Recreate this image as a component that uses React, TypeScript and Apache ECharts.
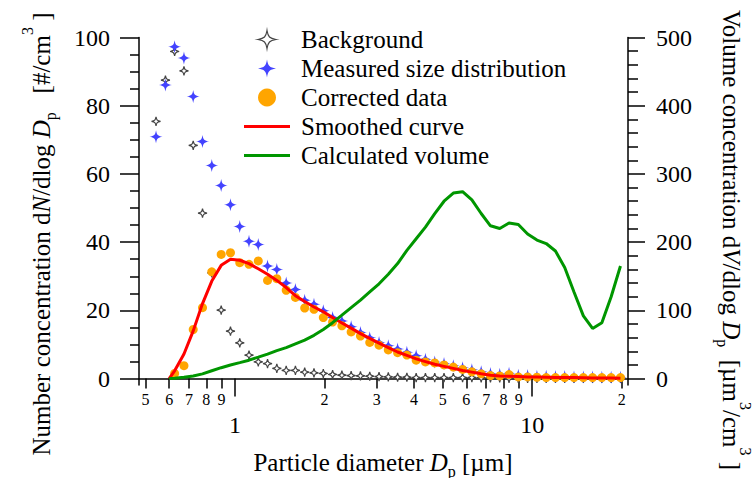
import React, { useEffect, useRef } from "react";
import * as echarts from "echarts";

const FONT = "'Liberation Serif', 'Times New Roman', serif";

// channel diameters (µm)
const diameters = [
  0.542, 0.583, 0.626, 0.673, 0.723, 0.777, 0.835, 0.898, 0.965, 1.037,
  1.114, 1.197, 1.286, 1.382, 1.486, 1.596, 1.715, 1.843, 1.981, 2.129,
  2.288, 2.458, 2.642, 2.839, 3.051, 3.278, 3.523, 3.786, 4.068, 4.371,
  4.698, 5.048, 5.425, 5.829, 6.264, 6.732, 7.234, 7.774, 8.354, 8.977,
  9.647, 10.37, 11.14, 11.97, 12.86, 13.82, 14.86, 15.96, 17.15, 18.43, 19.81,
];

const background = [
  75.4, 87.5, 95.9, 90.2, 68.4, 48.5, 31.0, 20.1, 13.9, 10.5,
  6.9, 4.9, 4.4, 3.0, 2.4, 2.4, 1.9, 1.7, 1.5, 1.2,
  1.0, 0.9, 0.8, 0.7, 0.6, 0.5, 0.4, 0.4, 0.3, 0.3,
  0.3, 0.3, 0.3, 0.3, 0.3, 0.2, 0.2, 0.2, 0.1, 0.1,
  0.1, 0.1, 0.1, 0.1, 0.1, 0.1, 0.1, 0.1, 0.1, 0.1, 0.1,
];

const measured = [
  70.9, 86.1, 97.3, 94.0, 82.7, 69.5, 62.5, 56.6, 51.0, 44.6,
  40.3, 39.3, 33.0, 32.0, 28.0, 26.1, 23.0, 21.8, 19.9, 17.9,
  16.9, 15.2, 13.5, 12.0, 10.6, 9.6, 8.7, 7.7, 6.7, 5.7,
  4.9, 4.4, 3.8, 3.2, 2.6, 2.0, 1.5, 1.3, 1.6, 1.0,
  0.9, 0.7, 0.7, 0.6, 0.6, 0.5, 0.5, 0.5, 0.4, 0.4, 0.4,
];

const corrected = [
  null, null, 1.5, 3.8, 14.4, 20.8, 31.3, 36.4, 36.9, 34.0,
  33.5, 34.5, 28.8, 29.3, 25.9, 23.8, 20.7, 20.3, 17.9, 16.6,
  15.5, 13.7, 12.5, 10.6, 9.8, 8.4, 7.6, 6.9, 5.4, 4.9,
  4.6, 4.0, 3.4, 2.7, 2.0, 1.4, 0.9, 0.8, 1.2, 0.5,
  0.5, 0.4, 0.3, 0.3, 0.3, 0.3, 0.3, 0.3, 0.3, 0.3, 0.3,
];

// curves start at 0.6 µm
const curveDiameters = [
  0.6, 0.626, 0.673, 0.723, 0.777, 0.835, 0.898, 0.965, 1.037,
  1.114, 1.197, 1.286, 1.382, 1.486, 1.596, 1.715, 1.843, 1.981, 2.129,
  2.288, 2.458, 2.642, 2.839, 3.051, 3.278, 3.523, 3.786, 4.068, 4.371,
  4.698, 5.048, 5.425, 5.829, 6.264, 6.732, 7.234, 7.774, 8.354, 8.977,
  9.647, 10.37, 11.14, 11.97, 12.86, 13.82, 14.86, 15.96, 17.15, 18.43, 19.81,
];

const smoothed = [
  0, 2.3, 7.2, 14.0, 22.0, 28.6, 33.2, 35.0, 34.7,
  33.7, 32.2, 30.6, 28.8, 26.7, 24.3, 22.6, 21.0, 19.6, 17.9,
  16.3, 14.8, 13.2, 11.8, 10.4, 9.1, 7.8, 6.8, 5.8, 5.0,
  4.2, 3.6, 3.0, 2.4, 1.9, 1.4, 1.0, 0.8, 0.7, 0.6,
  0.5, 0.45, 0.4, 0.35, 0.3, 0.3, 0.25, 0.2, 0.2, 0.15, 0.1,
];

const volume = [
  0, 0.5, 1.9, 3.8, 7.0, 11.5, 16, 20, 23.5,
  27, 31.5, 36, 41, 45.5, 51, 56.5, 63.5, 72, 82,
  93, 104, 115, 127, 139, 153, 168.6, 188, 205, 222,
  241.7, 260, 272, 274, 262, 242, 224, 220, 228, 226,
  212, 203, 198, 187, 163, 127, 92, 73.5, 82, 120, 165,
];

const minorTickValues = [0.5, 0.6, 0.7, 0.8, 0.9, 2, 3, 4, 5, 6, 7, 8, 9, 20];
const minorTickLabels = ["5", "6", "7", "8", "9", "2", "3", "4", "5", "6", "7", "8", "9", "2"];
const majorTickValues = [1, 10];
const majorTickLabels = ["1", "10"];

const leftTicks = [0, 20, 40, 60, 80, 100];
const leftMinorTicks = [5, 10, 15, 25, 30, 35, 45, 50, 55, 65, 70, 75, 85, 90, 95];
const rightTicks = [0, 100, 200, 300, 400, 500];
const rightMinorTicks = [20, 40, 60, 80, 120, 140, 160, 180, 220, 240, 260, 280, 320, 340, 360, 380, 420, 440, 460, 480];

const seriesNames = [
  "Background",
  "Measured size distribution",
  "Corrected data",
  "Smoothed curve",
  "Calculated volume",
];

const STAR = "path://M0,-10C1.2,-2.8 2.8,-1.2 10,0C2.8,1.2 1.2,2.8 0,10C-1.2,2.8 -2.8,1.2 -10,0C-2.8,-1.2 -1.2,-2.8 0,-10Z";
const LINE_ICON = "path://M0,0H46V3H0Z";

function labelFor(values: number[], labels: string[]) {
  return (v: number) => {
    const i = values.findIndex((t) => Math.abs(t - v) < 1e-6 * Math.max(1, t));
    return i >= 0 ? "{t|" + labels[i] + "}" : "";
  };
}
const plainLabel = (v: number) => "{t|" + v + "}";

const X_MIN = 0.475;
const X_MAX = 21;
const L_MIN = -1.87;
const L_MAX = 100;
const R_MIN = -9.36;
const R_MAX = 500;

const AX = { lineStyle: { color: "#000", width: 1.5 } };
const TICK = { color: "#000", width: 1.5 };
const tickRich = (size: number) => ({ t: { fontFamily: FONT, fontSize: size, color: "#000" } });

const LH = 30;
const mainStyle = { fontFamily: FONT, fontSize: 25, fill: "#000", lineHeight: LH, verticalAlign: "middle" };
const italicStyle = { ...mainStyle, fontStyle: "italic" };
const subStyle = { fontFamily: FONT, fontSize: 16, fill: "#000", lineHeight: LH, verticalAlign: "middle", padding: [18, 0, 0, 0] };
const supStyle = { fontFamily: FONT, fontSize: 16, fill: "#000", lineHeight: LH, verticalAlign: "middle", padding: [0, 0, 28, 0] };
const richStyles = { n: mainStyle, i: italicStyle, sub: subStyle, sup: supStyle };

function titleText(x: number, y: number, rotation: number, text: string) {
  return {
    type: "text",
    x,
    y,
    rotation,
    style: {
      legacy: false,
      text,
      rich: richStyles,
      fontFamily: FONT,
      fontSize: 25,
      lineHeight: LH,
      fill: "#000",
      align: "center",
      verticalAlign: "middle",
    },
  };
}

export default function App() {
  const ref = useRef<HTMLDivElement>(null);
  useEffect(() => {
    if (!ref.current) return;
    const chart = echarts.init(ref.current, undefined, { renderer: "svg" });
    const option: any = {
      animation: false,
      backgroundColor: "#fff",
      textStyle: { fontFamily: FONT, color: "#000" },
      grid: { left: 139, right: 126, top: 37.5, bottom: 93, outerBoundsMode: "none" },
      legend: {
        orient: "vertical",
        left: 239,
        top: 22,
        itemWidth: 46,
        itemHeight: 18,
        itemGap: 4,
        textStyle: { fontFamily: FONT, fontSize: 25, color: "#000", lineHeight: 25, padding: [0, 0, 0, 6] },
        data: [
          { name: seriesNames[0], itemStyle: { borderWidth: 1.2 } },
          seriesNames[1],
          seriesNames[2],
          { name: seriesNames[3], icon: LINE_ICON },
          { name: seriesNames[4], icon: LINE_ICON },
        ],
      },
      xAxis: [
        {
          type: "log",
          logBase: 10,
          min: X_MIN,
          max: X_MAX,
          position: "bottom",
          axisLine: { show: true, ...AX },
          axisTick: { show: true, customValues: minorTickValues, length: 10, lineStyle: TICK },
          axisLabel: {
            customValues: minorTickValues,
            formatter: labelFor(minorTickValues, minorTickLabels),
            rich: tickRich(16),
            fontFamily: FONT,
            fontSize: 16,
            color: "#000",
            margin: 6,
          },
          splitLine: { show: false },
          minorTick: { show: false },
        },
        {
          type: "log",
          logBase: 10,
          min: X_MIN,
          max: X_MAX,
          position: "bottom",
          axisLine: { show: false },
          axisTick: { show: true, customValues: majorTickValues, length: 18, lineStyle: TICK },
          axisLabel: {
            customValues: majorTickValues,
            formatter: labelFor(majorTickValues, majorTickLabels),
            rich: tickRich(24),
            fontFamily: FONT,
            fontSize: 24,
            color: "#000",
            margin: 28,
          },
          splitLine: { show: false },
        },
      ],
      yAxis: [
        {
          type: "value",
          position: "left",
          min: L_MIN,
          max: L_MAX,
          axisLine: { show: true, ...AX },
          axisTick: { show: true, customValues: leftTicks, length: 19, lineStyle: TICK },
          axisLabel: { customValues: leftTicks, formatter: plainLabel, rich: tickRich(24), fontFamily: FONT, fontSize: 24, color: "#000", margin: 29 },
          splitLine: { show: false },
        },
        {
          type: "value",
          position: "left",
          min: L_MIN,
          max: L_MAX,
          axisLine: { show: false },
          axisTick: { show: true, customValues: leftMinorTicks, length: 9, lineStyle: TICK },
          axisLabel: { show: false },
          splitLine: { show: false },
        },
        {
          type: "value",
          position: "right",
          min: R_MIN,
          max: R_MAX,
          axisLine: { show: true, ...AX },
          axisTick: { show: true, customValues: rightTicks, length: 17, lineStyle: TICK },
          axisLabel: { customValues: rightTicks, formatter: plainLabel, rich: tickRich(24), fontFamily: FONT, fontSize: 24, color: "#000", margin: 28 },
          splitLine: { show: false },
        },
        {
          type: "value",
          position: "right",
          min: R_MIN,
          max: R_MAX,
          axisLine: { show: false },
          axisTick: { show: true, customValues: rightMinorTicks, length: 10, lineStyle: TICK },
          axisLabel: { show: false },
          splitLine: { show: false },
        },
      ],
      series: [
        {
          name: seriesNames[0],
          type: "scatter",
          xAxisIndex: 0,
          yAxisIndex: 0,
          symbol: STAR,
          symbolSize: 9,
          itemStyle: { color: "#ffffff", borderColor: "#444444", borderWidth: 1.2, opacity: 1 },
          data: diameters.map((d, i) => [d, background[i]]),
        },
        {
          name: seriesNames[1],
          type: "scatter",
          xAxisIndex: 0,
          yAxisIndex: 0,
          symbol: STAR,
          symbolSize: 13,
          itemStyle: { color: "#4343ff", opacity: 1 },
          data: diameters.map((d, i) => [d, measured[i]]),
        },
        {
          name: seriesNames[2],
          type: "scatter",
          xAxisIndex: 0,
          yAxisIndex: 0,
          symbol: "circle",
          symbolSize: 9,
          itemStyle: { color: "#ffa500", opacity: 1 },
          data: diameters.map((d, i) => [d, corrected[i]]).filter((p) => p[1] !== null),
        },
        {
          name: seriesNames[3],
          type: "line",
          xAxisIndex: 0,
          yAxisIndex: 0,
          symbol: "none",
          lineStyle: { color: "#ff0000", width: 3 },
          itemStyle: { color: "#ff0000" },
          data: curveDiameters.map((d, i) => [d, smoothed[i]]),
        },
        {
          name: seriesNames[4],
          type: "line",
          xAxisIndex: 0,
          yAxisIndex: 2,
          symbol: "none",
          lineStyle: { color: "#009600", width: 3 },
          itemStyle: { color: "#009600" },
          data: curveDiameters.map((d, i) => [d, volume[i]]),
        },
      ],
      graphic: [
        titleText(41, 234, Math.PI / 2,
          "{n|Number concentration d}{i|N}{n|/dlog }{i|D}{sub|p}{n|   [#/cm}{sup|3}{n| ]}"),
        titleText(731, 240, -Math.PI / 2,
          "{n|Volume concentration d}{i|V}{n|/dlog }{i|D}{sub|p}{n|  [µm}{sup|3}{n|/cm}{sup|3}{n| ]}"),
        titleText(383, 462, 0, "{n|Particle diameter }{i|D}{sub|p}{n| [µm]}"),
      ],
    };
    chart.setOption(option);
    return () => chart.dispose();
  }, []);
  return (
    <div
      ref={ref}
      style={{ position: "absolute", left: 0, top: 0, width: 754, height: 478 }}
    />
  );
}
